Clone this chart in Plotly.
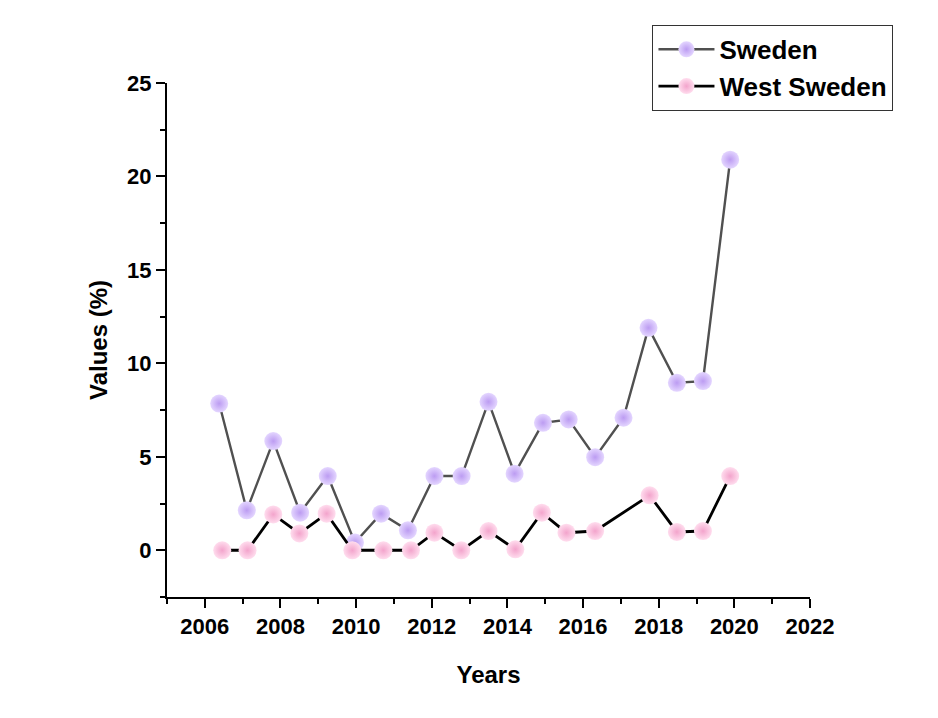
import plotly.graph_objects as go

sweden_years = [2006.38, 2007.11, 2007.81, 2008.52, 2009.25, 2009.97, 2010.66, 2011.37,
                2012.07, 2012.79, 2013.50, 2014.19, 2014.94, 2015.62, 2016.32, 2017.07,
                2017.73, 2018.48, 2019.17, 2019.89]
sweden_values = [7.85, 2.14, 5.84, 2.01, 3.97, 0.41, 1.96, 1.07,
                 3.97, 3.97, 7.94, 4.10, 6.82, 7.00, 4.98, 7.09,
                 11.90, 8.96, 9.05, 20.90]

west_years = [2006.46, 2007.13, 2007.81, 2008.50, 2009.22, 2009.90, 2010.72, 2011.45,
              2012.07, 2012.78, 2013.50, 2014.21, 2014.91, 2015.56, 2016.32, 2017.76,
              2018.48, 2019.17, 2019.89]
west_values = [0.0, 0.0, 1.92, 0.90, 1.96, 0.0, 0.0, 0.0,
               0.94, 0.0, 1.03, 0.05, 2.01, 0.94, 1.03, 2.94,
               0.98, 1.03, 3.97]

x_ticks = [2006, 2008, 2010, 2012, 2014, 2016, 2018, 2020, 2022]
y_ticks = [0, 5, 10, 15, 20, 25]

fig = go.Figure()
fig.add_trace(go.Scatter(
    x=sweden_years, y=sweden_values, name="Sweden", mode="lines+markers",
    line=dict(color="#505050", width=2.4),
    marker=dict(size=18, color="#E4D6FF",
                gradient=dict(type="radial", color="#BC9CF2"),
                line=dict(width=0)),
))
fig.add_trace(go.Scatter(
    x=west_years, y=west_values, name="West Sweden", mode="lines+markers",
    line=dict(color="#000000", width=2.8),
    marker=dict(size=18, color="#FFDDEE",
                gradient=dict(type="radial", color="#F3A4CC"),
                line=dict(width=0)),
))

font_family = "Liberation Sans, Arial, sans-serif"
fig.update_layout(
    width=938, height=718,
    margin=dict(l=159, r=136, t=75, b=129),
    paper_bgcolor="white", plot_bgcolor="white",
    font=dict(family=font_family, color="black"),
    showlegend=True,
    legend=dict(
        x=0.755, y=1.113, xanchor="left", yanchor="top",
        bordercolor="#333333", borderwidth=1, bgcolor="white",
        font=dict(size=26, family=font_family, color="black", weight="bold"),
        tracegroupgap=0, itemsizing="trace", itemwidth=56,
    ),
    xaxis=dict(
        range=[2005, 2022], tickvals=x_ticks, ticktext=[str(t) for t in x_ticks],
        showgrid=False, zeroline=False, showline=True, linecolor="black", linewidth=2,
        ticks="outside", ticklen=9, tickwidth=2, tickcolor="black",
        minor=dict(dtick=1, tick0=2005, ticks="outside", ticklen=5, tickwidth=1.5, tickcolor="black"),
        tickfont=dict(size=22, family=font_family, color="black", weight="bold"),
        title=dict(text="Years", font=dict(size=24, family=font_family, color="black", weight="bold"), standoff=28),
    ),
    yaxis=dict(
        range=[-2.5, 25], tickvals=y_ticks, ticktext=[str(t) for t in y_ticks],
        showgrid=False, zeroline=False, showline=True, linecolor="black", linewidth=2,
        ticks="outside", ticklen=9, tickwidth=2, tickcolor="black",
        minor=dict(dtick=2.5, tick0=-2.5, ticks="outside", ticklen=5, tickwidth=1.5, tickcolor="black"),
        tickfont=dict(size=22, family=font_family, color="black", weight="bold"),
        title=dict(text="Values (%)", font=dict(size=24, family=font_family, color="black", weight="bold"), standoff=13),
    ),
)

fig.write_html("out.html")
